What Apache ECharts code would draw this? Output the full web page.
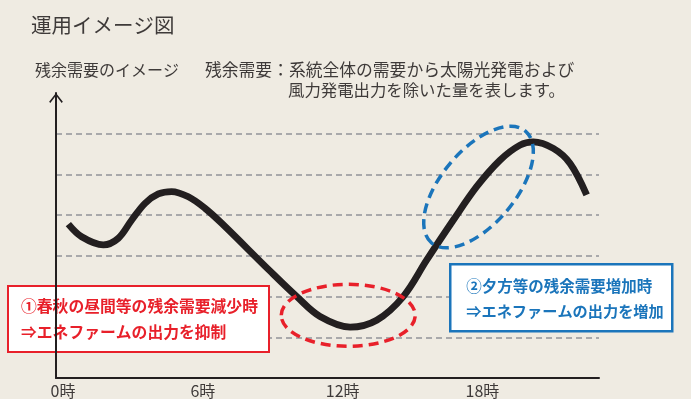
<!DOCTYPE html>
<html>
<head>
<meta charset="utf-8">
<script src="https://cdn.jsdelivr.net/npm/echarts@6/dist/echarts.min.js"></script>
<style>
  html, body { margin: 0; padding: 0; background: #efebe2; }
  #chart { width: 691px; height: 399px; }
</style>
</head>
<body>
<div id="chart"></div>
<script>
// 残余需要カーブ（時刻, 相対値）
const hours = [0.23, 0.8, 1.73, 2.37, 2.95, 3.52, 4.09, 4.66, 5.38, 6.09, 6.81, 8.88, 10.03, 11.03, 12.32, 13.46, 14.6, 15.61, 16.75, 17.75, 18.75, 19.61, 20.18, 21.04, 21.76, 22.47]
const demand = [3.78, 3.47, 3.27, 3.43, 3.88, 4.29, 4.52, 4.58, 4.45, 4.17, 3.8, 2.63, 2.0, 1.51, 1.25, 1.42, 2.0, 2.9, 3.88, 4.7, 5.35, 5.72, 5.8, 5.64, 5.27, 4.5]
const tickHours = [0, 6, 12, 18]
const tickLabels = ['0時', '6時', '12時', '18時']
// 注目範囲の中心（時刻, 相対値）
const lowFocus = [12.24, 1.54]
const highFocus = [17.83, 4.69]

const font = '"Noto Sans CJK JP", "Noto Sans", sans-serif'
const dark = '#3e3a39'
const red = '#e8202a'
const blue = '#1b75bb'

const chart = echarts.init(document.getElementById('chart'))

const option = {
  backgroundColor: '#efebe2',
  animation: false,
  textStyle: { fontFamily: font },
  title: {
    text: '運用イメージ図',
    left: 26,
    top: 10,
    textStyle: { fontSize: 20.5, fontWeight: 'normal', color: dark, fontFamily: font }
  },
  grid: { left: 56, right: 92, top: 93, bottom: 21 },
  xAxis: {
    type: 'value',
    min: -0.3,
    max: 23,
    axisLine: { lineStyle: { color: '#231f20', width: 2 } },
    axisTick: { show: false },
    splitLine: { show: false },
    axisLabel: {
      customValues: tickHours,
      formatter: v => tickLabels[tickHours.indexOf(v)],
      fontSize: 16,
      color: dark,
      margin: 5
    }
  },
  yAxis: {
    type: 'value',
    min: 0,
    max: 7,
    interval: 1,
    axisLine: {
      show: true,
      onZero: false,
      lineStyle: { color: '#231f20', width: 2 },
      symbol: ['none', 'path://M7,0 L14,9 L12.8,10.2 L7,2.6 L1.2,10.2 L0,9 Z'],
      symbolSize: [14, 10],
      symbolOffset: [0, -5]
    },
    axisTick: { show: false },
    axisLabel: { show: false },
    splitLine: {
      show: true,
      showMinLine: false,
      showMaxLine: false,
      lineStyle: { color: '#a9a9ab', width: 2, type: [6, 4] }
    }
  },
  series: [{
    type: 'line',
    data: hours.map((h, i) => [h, demand[i]]),
    smooth: 0.35,
    showSymbol: false,
    lineStyle: { color: '#231f20', width: 6.8 }
  }]
}

chart.setOption(option)

const lowPt = chart.convertToPixel({ gridIndex: 0 }, lowFocus)
const highPt = chart.convertToPixel({ gridIndex: 0 }, highFocus)

chart.setOption({
  graphic: [
    {
      type: 'text', left: 35, top: 62, z: 10,
      style: { text: '残余需要のイメージ', fontSize: 16, fill: dark, fontFamily: font }
    },
    {
      type: 'text', left: 205, top: 61, z: 10,
      style: { text: '残余需要：系統全体の需要から太陽光発電および', fontSize: 16.8, fill: dark, fontFamily: font }
    },
    {
      type: 'text', left: 288, top: 82, z: 10,
      style: { text: '風力発電出力を除いた量を表します。', fontSize: 16.4, fill: dark, fontFamily: font }
    },
    {
      type: 'ellipse', z: 20,
      x: lowPt[0], y: lowPt[1],
      shape: { cx: 0, cy: 0, rx: 67, ry: 31 },
      style: { fill: 'none', stroke: red, lineWidth: 3.5, lineDash: [10, 6] }
    },
    {
      type: 'ellipse', z: 20,
      x: highPt[0], y: highPt[1],
      rotation: 50 * Math.PI / 180,
      shape: { cx: 0, cy: 0, rx: 73, ry: 37 },
      style: { fill: 'none', stroke: blue, lineWidth: 3.5, lineDash: [10, 6] }
    },
    {
      type: 'group', left: 7, top: 285, z: 30,
      children: [
        {
          type: 'rect',
          shape: { x: 0, y: 0, width: 261, height: 66 },
          style: { fill: '#fff', stroke: red, lineWidth: 2 }
        },
        {
          type: 'text', x: 13, y: 20,
          style: { text: '①春秋の昼間等の残余需要減少時', fill: red, fontSize: 15.8, fontWeight: 'bold', fontFamily: font, verticalAlign: 'middle' }
        },
        {
          type: 'text', x: 13, y: 46,
          style: { text: '⇒エネファームの出力を抑制', fill: red, fontSize: 15.8, fontWeight: 'bold', fontFamily: font, verticalAlign: 'middle' }
        }
      ]
    },
    {
      type: 'group', left: 449, top: 263, z: 30,
      children: [
        {
          type: 'rect',
          shape: { x: 0, y: 0, width: 222, height: 67 },
          style: { fill: '#fff', stroke: blue, lineWidth: 2.5 }
        },
        {
          type: 'text', x: 16, y: 22,
          style: { text: '②夕方等の残余需要増加時', fill: blue, fontSize: 15.5, fontWeight: 'bold', fontFamily: font, verticalAlign: 'middle' }
        },
        {
          type: 'text', x: 16, y: 47,
          style: { text: '⇒エネファームの出力を増加', fill: blue, fontSize: 15.2, fontWeight: 'bold', fontFamily: font, verticalAlign: 'middle' }
        }
      ]
    }
  ]
})

window.addEventListener('resize', () => chart.resize())
</script>
</body>
</html>
